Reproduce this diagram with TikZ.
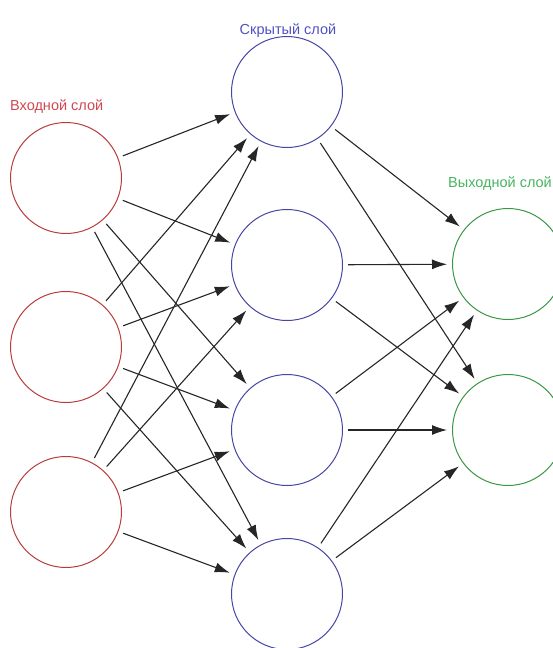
\documentclass[tikz,border=0pt]{standalone}
\usepackage{fontspec}
\setmainfont{Liberation Sans}
\usetikzlibrary{arrows.meta}

\definecolor{incol}{RGB}{185,60,60}
\definecolor{hidcol}{RGB}{70,70,165}
\definecolor{outcol}{RGB}{60,150,70}
\definecolor{inlab}{RGB}{210,70,80}
\definecolor{hidlab}{RGB}{80,80,195}
\definecolor{outlab}{RGB}{70,180,95}

\tikzset{
    neuron/.style={circle, draw, line width=1pt, minimum size=111pt, inner sep=0pt},
    layerlabel/.style={font=\fontsize{14.5}{16}\selectfont, inner sep=0pt},
    link/.style={-{Latex[length=15pt,width=10pt]}, line width=1.1pt, black!85,
        shorten >=5pt, shorten <=5pt}
}

\begin{document}
\begin{tikzpicture}[x=1pt, y=-1pt]

    \useasboundingbox (0,0) rectangle (553,648);

    % layers
    \foreach \y [count=\i] in {178, 347, 512}
        \node[neuron, draw=incol] (in-\i) at (66,\y) {};
    \foreach \y [count=\i] in {92, 265, 430, 594}
        \node[neuron, draw=hidcol] (hid-\i) at (287,\y) {};
    \foreach \y [count=\i] in {264, 430}
        \node[neuron, draw=outcol] (out-\i) at (508,\y) {};

    % labels
    \node[layerlabel, text=inlab, anchor=west] (inname) at (10,107) {Входной слой};
    \node[layerlabel, text=hidlab] (hidname) at (288,31) {Скрытый слой};
    \node[layerlabel, text=outlab, anchor=east] (outname) at (552,184) {Выходной слой};

    % connections
    \foreach \i in {1,2,3}
        \foreach \j in {1,...,4}
            \draw[link] (in-\i) -- (hid-\j);
    \foreach \j in {1,...,4}
        \foreach \k in {1,2}
            \draw[link] (hid-\j) -- (out-\k);

\end{tikzpicture}
\end{document}
